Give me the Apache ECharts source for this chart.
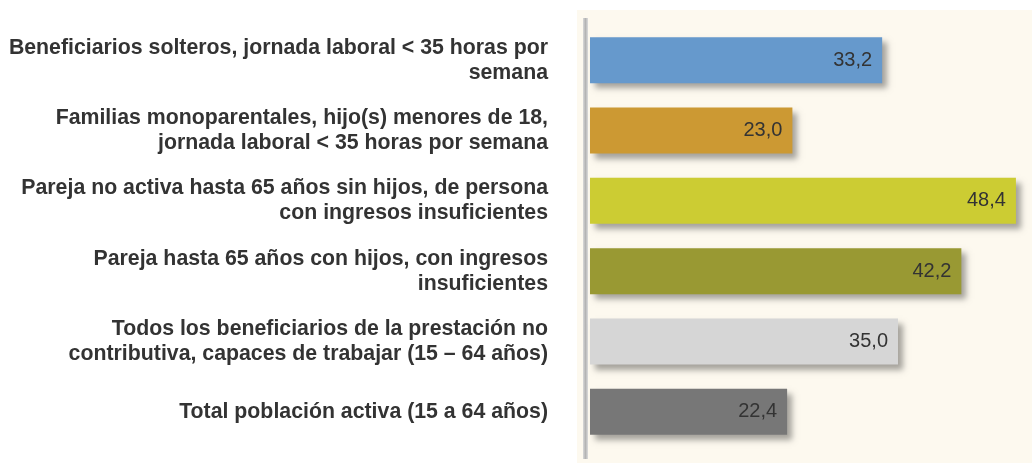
<!DOCTYPE html>
<html>
<head>
<meta charset="utf-8">
<script src="https://cdn.jsdelivr.net/npm/echarts@6/dist/echarts.min.js"></script>
<style>
  html, body { margin: 0; padding: 0; background: #ffffff; }
  #main { width: 1032px; height: 463px; }
</style>
</head>
<body>
<div id="main"></div>
<script type="text/javascript">
// categorias (de arriba a abajo)
var categories = [
    'Beneficiarios solteros, jornada laboral < 35 horas por\nsemana',
    'Familias monoparentales, hijo(s) menores de 18,\njornada laboral < 35 horas por semana',
    'Pareja no activa hasta 65 años sin hijos, de persona\ncon ingresos insuficientes',
    'Pareja hasta 65 años con hijos, con ingresos\ninsuficientes',
    'Todos los beneficiarios de la prestación no\ncontributiva, capaces de trabajar (15 – 64 años)',
    'Total población activa (15 a 64 años)'
];
var values = [33.2, 23.0, 48.4, 42.2, 35.0, 22.4];
var barColors = ['#6699cc', '#cc9933', '#cccc33', '#999933', '#d6d6d6', '#777777'];

var myChart = echarts.init(document.getElementById('main'));

var option = {
    animation: false,
    grid: {
        left: 590,
        right: 2,
        top: 25,
        bottom: 16
    },
    graphic: [
        {
            // fondo crema
            type: 'rect',
            z: -10,
            shape: { x: 577, y: 10, width: 455, height: 453 },
            style: { fill: '#fdf9ef' }
        },
        {
            // eje vertical gris
            type: 'rect',
            z: -5,
            shape: { x: 583, y: 18, width: 5, height: 441 },
            style: {
                fill: new echarts.graphic.LinearGradient(0, 0, 1, 0, [
                    { offset: 0, color: '#d8d8d8' },
                    { offset: 0.5, color: '#b4b4b4' },
                    { offset: 1, color: '#dcdcdc' }
                ])
            }
        }
    ],
    xAxis: {
        type: 'value',
        min: 0,
        max: 50,
        show: false
    },
    yAxis: {
        type: 'category',
        inverse: true,
        data: categories,
        axisLine: { show: false },
        axisTick: { show: false },
        axisLabel: {
            margin: 42,
            align: 'right',
            fontFamily: 'Liberation Sans, Arial, sans-serif',
            fontWeight: 'bold',
            fontSize: 21.3,
            lineHeight: 25,
            color: '#333333'
        }
    },
    series: [
        {
            type: 'bar',
            barWidth: 46,
            data: values.map(function (v, i) {
                return { value: v, itemStyle: { color: barColors[i] } };
            }),
            itemStyle: {
                shadowColor: 'rgba(0,0,0,0.35)',
                shadowBlur: 6,
                shadowOffsetX: 5,
                shadowOffsetY: 5
            },
            label: {
                show: true,
                position: 'insideRight',
                distance: 10,
                fontFamily: 'Liberation Sans, Arial, sans-serif',
                fontSize: 20,
                color: '#333333',
                formatter: function (p) {
                    return p.value.toFixed(1).replace('.', ',');
                }
            }
        }
    ]
};

myChart.setOption(option);
</script>
</body>
</html>
